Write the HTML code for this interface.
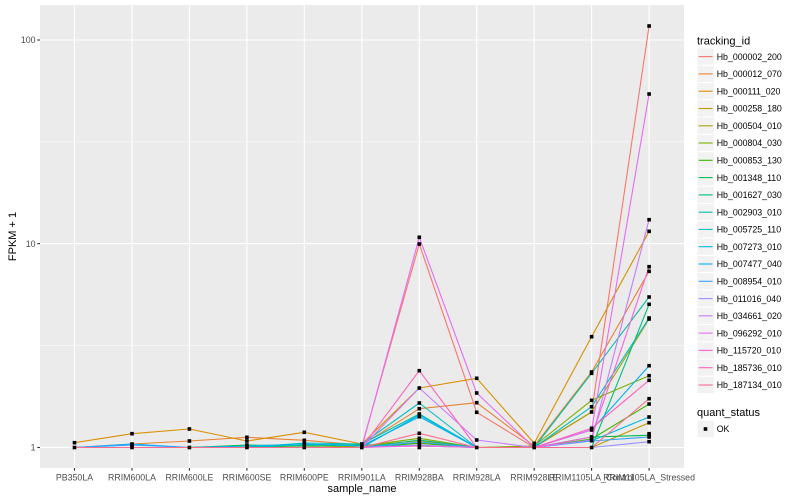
<!DOCTYPE html>
<html><head><meta charset="utf-8"><style>
html,body{margin:0;padding:0;background:#fff;}
svg{display:block;font-family:"Liberation Sans",Arial,sans-serif;}
</style></head><body>
<svg width="800" height="500" viewBox="0 0 800 500" xmlns="http://www.w3.org/2000/svg">
<rect x="0" y="0" width="800" height="500" fill="#fff"/>
<rect x="40" y="5" width="644" height="463" fill="#EBEBEB"/>
<g stroke="#fff" stroke-width="0.55" fill="none">
<line x1="40" y1="345.6" x2="684" y2="345.6"/>
<line x1="40" y1="141.9" x2="684" y2="141.9"/>
</g>
<g stroke="#fff" stroke-width="1.1" fill="none">
<line x1="40" y1="447.5" x2="684" y2="447.5"/>
<line x1="40" y1="243.6" x2="684" y2="243.6"/>
<line x1="40" y1="40" x2="684" y2="40"/>
<line x1="74.5" y1="5" x2="74.5" y2="468"/>
<line x1="132" y1="5" x2="132" y2="468"/>
<line x1="189.4" y1="5" x2="189.4" y2="468"/>
<line x1="246.9" y1="5" x2="246.9" y2="468"/>
<line x1="304.3" y1="5" x2="304.3" y2="468"/>
<line x1="361.8" y1="5" x2="361.8" y2="468"/>
<line x1="419.3" y1="5" x2="419.3" y2="468"/>
<line x1="476.7" y1="5" x2="476.7" y2="468"/>
<line x1="534.2" y1="5" x2="534.2" y2="468"/>
<line x1="591.6" y1="5" x2="591.6" y2="468"/>
<line x1="649.1" y1="5" x2="649.1" y2="468"/>
</g>
<g fill="none" stroke-width="1.1" stroke-linejoin="round">
<polyline stroke="#F8766D" points="74.5,447.5 132,447.5 189.4,447.5 246.9,447.5 304.3,447.5 361.8,446 419.3,244 476.7,412.3 534.2,447.5 591.6,412 649.1,26"/>
<polyline stroke="#EA8331" points="74.5,447.5 132,444 189.4,441 246.9,437.3 304.3,440.3 361.8,445 419.3,408.7 476.7,402.7 534.2,446 591.6,372 649.1,271.3"/>
<polyline stroke="#D89000" points="74.5,442.7 132,433.7 189.4,429 246.9,441 304.3,432.3 361.8,444 419.3,388 476.7,378.3 534.2,443.3 591.6,336.7 649.1,231.3"/>
<polyline stroke="#C09B00" points="74.5,447.5 132,447.5 189.4,447.5 246.9,447.5 304.3,447.5 361.8,447.5 419.3,443 476.7,447.5 534.2,447.5 591.6,447.5 649.1,422.7"/>
<polyline stroke="#A3A500" points="74.5,447.5 132,447.5 189.4,447.5 246.9,446 304.3,447.5 361.8,446 419.3,440.7 476.7,447.5 534.2,447 591.6,412 649.1,319"/>
<polyline stroke="#7CAE00" points="74.5,447.5 132,447.5 189.4,447.5 246.9,447.5 304.3,447.5 361.8,446 419.3,438.3 476.7,447.5 534.2,446 591.6,400.3 649.1,375.7"/>
<polyline stroke="#39B600" points="74.5,447.5 132,447.5 189.4,447.5 246.9,446 304.3,447.5 361.8,447.5 419.3,443.3 476.7,447.5 534.2,447.5 591.6,439 649.1,404"/>
<polyline stroke="#00BB4E" points="74.5,447.5 132,447.5 189.4,447.5 246.9,445 304.3,446 361.8,445 419.3,446 476.7,447.5 534.2,447.5 591.6,437 649.1,435.3"/>
<polyline stroke="#00BF7D" points="74.5,447.5 132,447.5 189.4,447.5 246.9,447.5 304.3,447.5 361.8,447.5 419.3,440 476.7,447.5 534.2,447.5 591.6,447.5 649.1,304.3"/>
<polyline stroke="#00C1A3" points="74.5,447.5 132,447.5 189.4,447.5 246.9,447.5 304.3,445 361.8,444 419.3,414 476.7,447.5 534.2,447.5 591.6,373.3 649.1,297"/>
<polyline stroke="#00BFC4" points="74.5,447.5 132,447.5 189.4,447.5 246.9,447.5 304.3,443 361.8,444 419.3,403 476.7,447.5 534.2,447.5 591.6,406.7 649.1,318"/>
<polyline stroke="#00BAE0" points="74.5,447.5 132,447.5 189.4,447.5 246.9,447.5 304.3,447.5 361.8,447.5 419.3,415 476.7,447.5 534.2,447.5 591.6,440.7 649.1,417"/>
<polyline stroke="#00B0F6" points="74.5,447.5 132,444 189.4,447.5 246.9,446 304.3,444 361.8,446 419.3,416.7 476.7,447.5 534.2,447.5 591.6,430 649.1,365.7"/>
<polyline stroke="#35A2FF" points="74.5,447.5 132,445 189.4,447.5 246.9,447.5 304.3,447.5 361.8,447.5 419.3,442 476.7,447.5 534.2,447.5 591.6,441 649.1,437"/>
<polyline stroke="#9590FF" points="74.5,447.5 132,447.5 189.4,447.5 246.9,447.5 304.3,447.5 361.8,447.5 419.3,445 476.7,447.5 534.2,447.5 591.6,447.5 649.1,441.7"/>
<polyline stroke="#C77CFF" points="74.5,447.5 132,447.5 189.4,447.5 246.9,447.5 304.3,447.5 361.8,447.5 419.3,388 476.7,440 534.2,447.5 591.6,440 649.1,219.7"/>
<polyline stroke="#E76BF3" points="74.5,447.5 132,447.5 189.4,447.5 246.9,447.5 304.3,447.5 361.8,447.5 419.3,237.3 476.7,393 534.2,447.5 591.6,430 649.1,94"/>
<polyline stroke="#FA62DB" points="74.5,447.5 132,447.5 189.4,447.5 246.9,447.5 304.3,447.5 361.8,447.5 419.3,446 476.7,447.5 534.2,447.5 591.6,437 649.1,266.7"/>
<polyline stroke="#FF62BC" points="74.5,447.5 132,447.5 189.4,447.5 246.9,447.5 304.3,447.5 361.8,447.5 419.3,370.7 476.7,447.5 534.2,447.5 591.6,428.3 649.1,380.3"/>
<polyline stroke="#FF6C91" points="74.5,447.5 132,447.5 189.4,447.5 246.9,447.5 304.3,447.5 361.8,447.5 419.3,433.3 476.7,447.5 534.2,447.5 591.6,447.5 649.1,398.7"/>
</g>
<g fill="#000">
<rect x="72.7" y="440.9" width="3.6" height="3.6"/><rect x="72.7" y="445.7" width="3.6" height="3.6"/>
<rect x="130.2" y="431.9" width="3.6" height="3.6"/><rect x="130.2" y="442.2" width="3.6" height="3.6"/><rect x="130.2" y="443.2" width="3.6" height="3.6"/><rect x="130.2" y="445.7" width="3.6" height="3.6"/>
<rect x="187.6" y="427.2" width="3.6" height="3.6"/><rect x="187.6" y="439.2" width="3.6" height="3.6"/><rect x="187.6" y="445.7" width="3.6" height="3.6"/>
<rect x="245.1" y="435.5" width="3.6" height="3.6"/><rect x="245.1" y="439.2" width="3.6" height="3.6"/><rect x="245.1" y="443.2" width="3.6" height="3.6"/><rect x="245.1" y="444.2" width="3.6" height="3.6"/><rect x="245.1" y="445.7" width="3.6" height="3.6"/>
<rect x="302.5" y="430.5" width="3.6" height="3.6"/><rect x="302.5" y="438.5" width="3.6" height="3.6"/><rect x="302.5" y="441.2" width="3.6" height="3.6"/><rect x="302.5" y="443.2" width="3.6" height="3.6"/><rect x="302.5" y="445.7" width="3.6" height="3.6"/>
<rect x="360" y="442.2" width="3.6" height="3.6"/><rect x="360" y="443.2" width="3.6" height="3.6"/><rect x="360" y="444.2" width="3.6" height="3.6"/><rect x="360" y="445.7" width="3.6" height="3.6"/>
<rect x="417.5" y="235.5" width="3.6" height="3.6"/><rect x="417.5" y="242.2" width="3.6" height="3.6"/><rect x="417.5" y="368.9" width="3.6" height="3.6"/><rect x="417.5" y="386.2" width="3.6" height="3.6"/><rect x="417.5" y="401.2" width="3.6" height="3.6"/><rect x="417.5" y="406.9" width="3.6" height="3.6"/><rect x="417.5" y="412.2" width="3.6" height="3.6"/><rect x="417.5" y="413.2" width="3.6" height="3.6"/><rect x="417.5" y="414.9" width="3.6" height="3.6"/><rect x="417.5" y="431.5" width="3.6" height="3.6"/><rect x="417.5" y="436.5" width="3.6" height="3.6"/><rect x="417.5" y="438.9" width="3.6" height="3.6"/><rect x="417.5" y="441.2" width="3.6" height="3.6"/><rect x="417.5" y="443.2" width="3.6" height="3.6"/><rect x="417.5" y="444.2" width="3.6" height="3.6"/><rect x="417.5" y="445.7" width="3.6" height="3.6"/>
<rect x="474.9" y="376.5" width="3.6" height="3.6"/><rect x="474.9" y="391.2" width="3.6" height="3.6"/><rect x="474.9" y="400.9" width="3.6" height="3.6"/><rect x="474.9" y="410.5" width="3.6" height="3.6"/><rect x="474.9" y="438.2" width="3.6" height="3.6"/><rect x="474.9" y="445.7" width="3.6" height="3.6"/>
<rect x="532.4" y="441.5" width="3.6" height="3.6"/><rect x="532.4" y="444.2" width="3.6" height="3.6"/><rect x="532.4" y="445.7" width="3.6" height="3.6"/>
<rect x="589.8" y="334.9" width="3.6" height="3.6"/><rect x="589.8" y="370.2" width="3.6" height="3.6"/><rect x="589.8" y="371.5" width="3.6" height="3.6"/><rect x="589.8" y="398.5" width="3.6" height="3.6"/><rect x="589.8" y="404.9" width="3.6" height="3.6"/><rect x="589.8" y="410.2" width="3.6" height="3.6"/><rect x="589.8" y="426.5" width="3.6" height="3.6"/><rect x="589.8" y="428.2" width="3.6" height="3.6"/><rect x="589.8" y="435.2" width="3.6" height="3.6"/><rect x="589.8" y="437.2" width="3.6" height="3.6"/><rect x="589.8" y="438.9" width="3.6" height="3.6"/><rect x="589.8" y="445.7" width="3.6" height="3.6"/>
<rect x="647.3" y="24.2" width="3.6" height="3.6"/><rect x="647.3" y="92.2" width="3.6" height="3.6"/><rect x="647.3" y="217.9" width="3.6" height="3.6"/><rect x="647.3" y="229.5" width="3.6" height="3.6"/><rect x="647.3" y="264.9" width="3.6" height="3.6"/><rect x="647.3" y="269.5" width="3.6" height="3.6"/><rect x="647.3" y="295.2" width="3.6" height="3.6"/><rect x="647.3" y="302.5" width="3.6" height="3.6"/><rect x="647.3" y="316.2" width="3.6" height="3.6"/><rect x="647.3" y="317.2" width="3.6" height="3.6"/><rect x="647.3" y="363.9" width="3.6" height="3.6"/><rect x="647.3" y="373.9" width="3.6" height="3.6"/><rect x="647.3" y="378.5" width="3.6" height="3.6"/><rect x="647.3" y="396.9" width="3.6" height="3.6"/><rect x="647.3" y="402.2" width="3.6" height="3.6"/><rect x="647.3" y="415.2" width="3.6" height="3.6"/><rect x="647.3" y="420.9" width="3.6" height="3.6"/><rect x="647.3" y="431.9" width="3.6" height="3.6"/><rect x="647.3" y="433.5" width="3.6" height="3.6"/><rect x="647.3" y="435.2" width="3.6" height="3.6"/><rect x="647.3" y="439.9" width="3.6" height="3.6"/>
</g>
<g stroke="#333" stroke-width="1.1">
<line x1="37.3" y1="447.5" x2="40" y2="447.5"/>
<line x1="37.3" y1="243.6" x2="40" y2="243.6"/>
<line x1="37.3" y1="40" x2="40" y2="40"/>
<line x1="74.5" y1="468" x2="74.5" y2="470.7"/>
<line x1="132" y1="468" x2="132" y2="470.7"/>
<line x1="189.4" y1="468" x2="189.4" y2="470.7"/>
<line x1="246.9" y1="468" x2="246.9" y2="470.7"/>
<line x1="304.3" y1="468" x2="304.3" y2="470.7"/>
<line x1="361.8" y1="468" x2="361.8" y2="470.7"/>
<line x1="419.3" y1="468" x2="419.3" y2="470.7"/>
<line x1="476.7" y1="468" x2="476.7" y2="470.7"/>
<line x1="534.2" y1="468" x2="534.2" y2="470.7"/>
<line x1="591.6" y1="468" x2="591.6" y2="470.7"/>
<line x1="649.1" y1="468" x2="649.1" y2="470.7"/>
</g>
<g fill="#4D4D4D" font-size="8.8" text-anchor="end">
<text x="35.5" y="450.7">1</text>
<text x="35.5" y="246.8">10</text>
<text x="35.5" y="43.2">100</text>
</g>
<g fill="#4D4D4D" font-size="8.8" text-anchor="middle">
<text x="74.5" y="480.6">PB350LA</text>
<text x="132" y="480.6">RRIM600LA</text>
<text x="189.4" y="480.6">RRIM600LE</text>
<text x="246.9" y="480.6">RRIM600SE</text>
<text x="304.3" y="480.6">RRIM600PE</text>
<text x="361.8" y="480.6">RRIM901LA</text>
<text x="419.3" y="480.6">RRIM928BA</text>
<text x="476.7" y="480.6">RRIM928LA</text>
<text x="534.2" y="480.6">RRIM928LE</text>
<text x="591.6" y="480.6">RRIM1105LA_Control</text>
<text x="649.1" y="480.6">RRIM1105LA_Stressed</text>
</g>
<text x="362" y="492.2" font-size="11" text-anchor="middle" fill="#000">sample_name</text>
<text transform="translate(15.8,236.5) rotate(-90)" font-size="11" text-anchor="middle" fill="#000">FPKM + 1</text>
<text x="697" y="44.6" font-size="11" fill="#000">tracking_id</text>
<g stroke="#fff" stroke-width="1" fill="#F2F2F2">
<rect x="697" y="48" width="17.3" height="17.3"/><rect x="697" y="65.3" width="17.3" height="17.3"/><rect x="697" y="82.6" width="17.3" height="17.3"/><rect x="697" y="99.8" width="17.3" height="17.3"/><rect x="697" y="117.1" width="17.3" height="17.3"/><rect x="697" y="134.4" width="17.3" height="17.3"/><rect x="697" y="151.7" width="17.3" height="17.3"/><rect x="697" y="169" width="17.3" height="17.3"/><rect x="697" y="186.2" width="17.3" height="17.3"/><rect x="697" y="203.5" width="17.3" height="17.3"/><rect x="697" y="220.8" width="17.3" height="17.3"/><rect x="697" y="238.1" width="17.3" height="17.3"/><rect x="697" y="255.4" width="17.3" height="17.3"/><rect x="697" y="272.6" width="17.3" height="17.3"/><rect x="697" y="289.9" width="17.3" height="17.3"/><rect x="697" y="307.2" width="17.3" height="17.3"/><rect x="697" y="324.5" width="17.3" height="17.3"/><rect x="697" y="341.8" width="17.3" height="17.3"/><rect x="697" y="359" width="17.3" height="17.3"/><rect x="697" y="376.3" width="17.3" height="17.3"/>
<rect x="697" y="420.4" width="17.3" height="17.3"/>
</g>
<g stroke-width="1.1">
<line x1="698.7" x2="712.6" y1="56.6" y2="56.6" stroke="#F8766D"/>
<line x1="698.7" x2="712.6" y1="73.9" y2="73.9" stroke="#EA8331"/>
<line x1="698.7" x2="712.6" y1="91.2" y2="91.2" stroke="#D89000"/>
<line x1="698.7" x2="712.6" y1="108.5" y2="108.5" stroke="#C09B00"/>
<line x1="698.7" x2="712.6" y1="125.8" y2="125.8" stroke="#A3A500"/>
<line x1="698.7" x2="712.6" y1="143" y2="143" stroke="#7CAE00"/>
<line x1="698.7" x2="712.6" y1="160.3" y2="160.3" stroke="#39B600"/>
<line x1="698.7" x2="712.6" y1="177.6" y2="177.6" stroke="#00BB4E"/>
<line x1="698.7" x2="712.6" y1="194.9" y2="194.9" stroke="#00BF7D"/>
<line x1="698.7" x2="712.6" y1="212.2" y2="212.2" stroke="#00C1A3"/>
<line x1="698.7" x2="712.6" y1="229.4" y2="229.4" stroke="#00BFC4"/>
<line x1="698.7" x2="712.6" y1="246.7" y2="246.7" stroke="#00BAE0"/>
<line x1="698.7" x2="712.6" y1="264" y2="264" stroke="#00B0F6"/>
<line x1="698.7" x2="712.6" y1="281.3" y2="281.3" stroke="#35A2FF"/>
<line x1="698.7" x2="712.6" y1="298.6" y2="298.6" stroke="#9590FF"/>
<line x1="698.7" x2="712.6" y1="315.8" y2="315.8" stroke="#C77CFF"/>
<line x1="698.7" x2="712.6" y1="333.1" y2="333.1" stroke="#E76BF3"/>
<line x1="698.7" x2="712.6" y1="350.4" y2="350.4" stroke="#FA62DB"/>
<line x1="698.7" x2="712.6" y1="367.7" y2="367.7" stroke="#FF62BC"/>
<line x1="698.7" x2="712.6" y1="385" y2="385" stroke="#FF6C91"/>
</g>
<g font-size="8.8" fill="#000">
<text x="716.7" y="59.8">Hb_000002_200</text>
<text x="716.7" y="77.1">Hb_000012_070</text>
<text x="716.7" y="94.4">Hb_000111_020</text>
<text x="716.7" y="111.7">Hb_000258_180</text>
<text x="716.7" y="129">Hb_000504_010</text>
<text x="716.7" y="146.2">Hb_000804_030</text>
<text x="716.7" y="163.5">Hb_000853_130</text>
<text x="716.7" y="180.8">Hb_001348_110</text>
<text x="716.7" y="198.1">Hb_001627_030</text>
<text x="716.7" y="215.4">Hb_002903_010</text>
<text x="716.7" y="232.6">Hb_005725_110</text>
<text x="716.7" y="249.9">Hb_007273_010</text>
<text x="716.7" y="267.2">Hb_007477_040</text>
<text x="716.7" y="284.5">Hb_008954_010</text>
<text x="716.7" y="301.8">Hb_011016_040</text>
<text x="716.7" y="319">Hb_034661_020</text>
<text x="716.7" y="336.3">Hb_096292_010</text>
<text x="716.7" y="353.6">Hb_115720_010</text>
<text x="716.7" y="370.9">Hb_185736_010</text>
<text x="716.7" y="388.2">Hb_187134_010</text>
<text x="716.7" y="432.2">OK</text>
</g>
<text x="697" y="416" font-size="11" fill="#000">quant_status</text>
<rect x="703.7" y="427.2" width="3.6" height="3.6" fill="#000"/>
</svg>
</body></html>
